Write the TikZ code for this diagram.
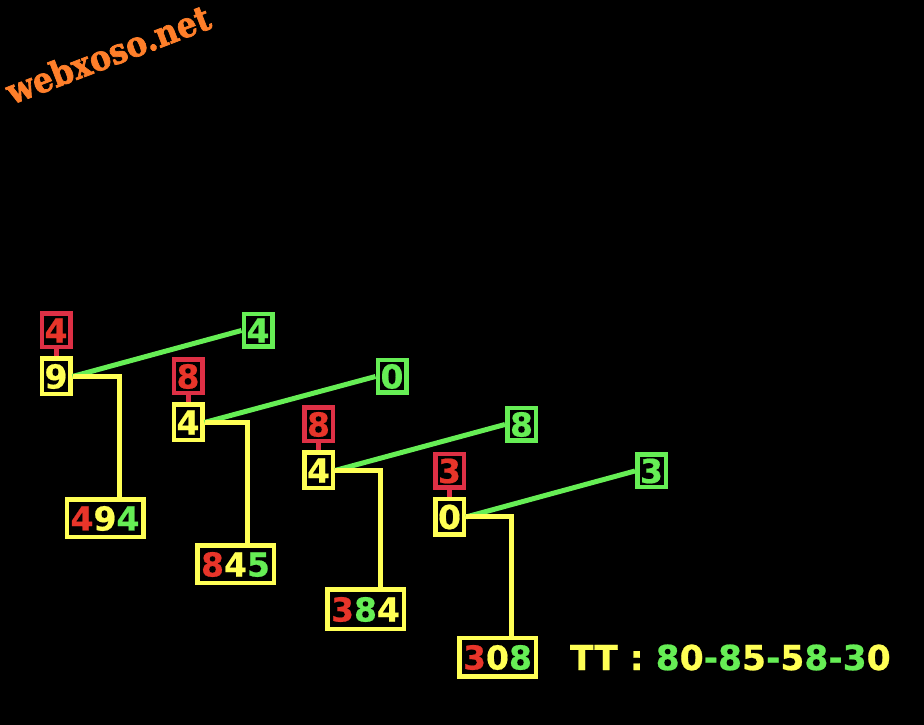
\documentclass[tikz,border=0pt]{standalone}
\usepackage{fontspec}
\setmainfont[BoldFeatures={FakeBold=0.6}]{DejaVu Sans}
\newfontfamily\markfont[BoldFeatures={FakeBold=2}]{DejaVu Serif}
\usepackage{xcolor}
\usetikzlibrary{positioning}
\definecolor{rd}{HTML}{E8352A}
\definecolor{rdl}{HTML}{DE3045}
\definecolor{yw}{HTML}{FFFF55}
\definecolor{gr}{HTML}{66EE55}
\definecolor{og}{HTML}{FF7F2A}
\newcommand{\cred}[1]{\textcolor{rd}{#1}}
\newcommand{\cyel}[1]{\textcolor{yw}{#1}}
\newcommand{\cgrn}[1]{\textcolor{gr}{#1}}
\begin{document}
\begin{tikzpicture}[x=1pt,y=1pt,font=\fontsize{33}{33}\selectfont\bfseries,
  dig/.style={draw=yw,line width=4.5pt,text=yw,inner sep=0pt,minimum width=28.5pt,minimum height=35.5pt},
  tipbox/.style={draw=rdl,line width=4.5pt,text=rd,inner sep=0pt,minimum width=28.5pt,minimum height=33.5pt},
  endbox/.style={draw=gr,line width=4.5pt,text=gr,inner sep=0pt,minimum width=28.5pt,minimum height=32.5pt},
  res/.style={draw=yw,line width=4.5pt,inner sep=0pt,minimum width=76.5pt,minimum height=37.5pt},
  gl/.style={draw=gr,line width=5pt},
  yl/.style={draw=yw,line width=5pt},
  rl/.style={draw=rdl,line width=5pt}]
  \fill[black] (0,0) rectangle (924,725);
  \useasboundingbox (0,0) rectangle (924,725);
  \node[dig] (d1) at (56,348.5) {9};
  \node[dig] (d2) at (188,302.5) {4};
  \node[dig] (d3) at (318.5,254.5) {4};
  \node[dig] (d4) at (449.5,208) {0};
  \node[tipbox,above=7pt of d1] (t1) {4};
  \node[tipbox,above=7pt of d2] (t2) {8};
  \node[tipbox,above=7pt of d3] (t3) {8};
  \node[tipbox,above=7pt of d4] (t4) {3};
  \node[endbox,right=169pt of t1] (e1) {4};
  \node[endbox,right=171pt of t2] (e2) {0};
  \node[endbox,right=170pt of t3] (e3) {8};
  \node[endbox,right=169pt of t4] (e4) {3};
  \node[res,below=101pt of d1,xshift=49pt] (r1) {\cred{4}\cyel{9}\cgrn{4}};
  \node[res,below=101pt of d2,xshift=47.5pt] (r2) {\cred{8}\cyel{4}\cgrn{5}};
  \node[res,below=97pt of d3,xshift=47pt,minimum height=39.5pt] (r3) {\cred{3}\cgrn{8}\cyel{4}};
  \node[res,below=99pt of d4,xshift=48pt,minimum height=38.5pt] (r4) {\cred{3}\cyel{0}\cgrn{8}};
  \node[anchor=west,font=\fontsize{34.5}{34.5}\selectfont\bfseries] (tt) at (566.5,67.5) {\cyel{TT :} \cgrn{8}\cyel{0}\cgrn{-8}\cyel{5}\cgrn{-}\cyel{5}\cgrn{8-3}\cyel{0}};
  \node[font=\markfont\fontsize{35}{35}\selectfont\bfseries,text=og,rotate=21,xscale=.9] (wm) at (108,671) {webxoso.net};
  \draw[rl] (t1) -- (d1); \draw[rl] (t2) -- (d2); \draw[rl] (t3) -- (d3); \draw[rl] (t4) -- (d4);
  \draw[gl] (d1.east) -- (e1.west); \draw[gl] (d2.east) -- (e2.west);
  \draw[gl] (d3.east) -- (e3.west); \draw[gl] (d4.east) -- (e4.west);
  \draw[yl] (d1.east) -| ([xshift=14pt]r1.north);
  \draw[yl] (d2.east) -| ([xshift=11.5pt]r2.north);
  \draw[yl] (d3.east) -| ([xshift=14.5pt]r3.north);
  \draw[yl] (d4.east) -| ([xshift=13.5pt]r4.north);
\end{tikzpicture}
\end{document}
